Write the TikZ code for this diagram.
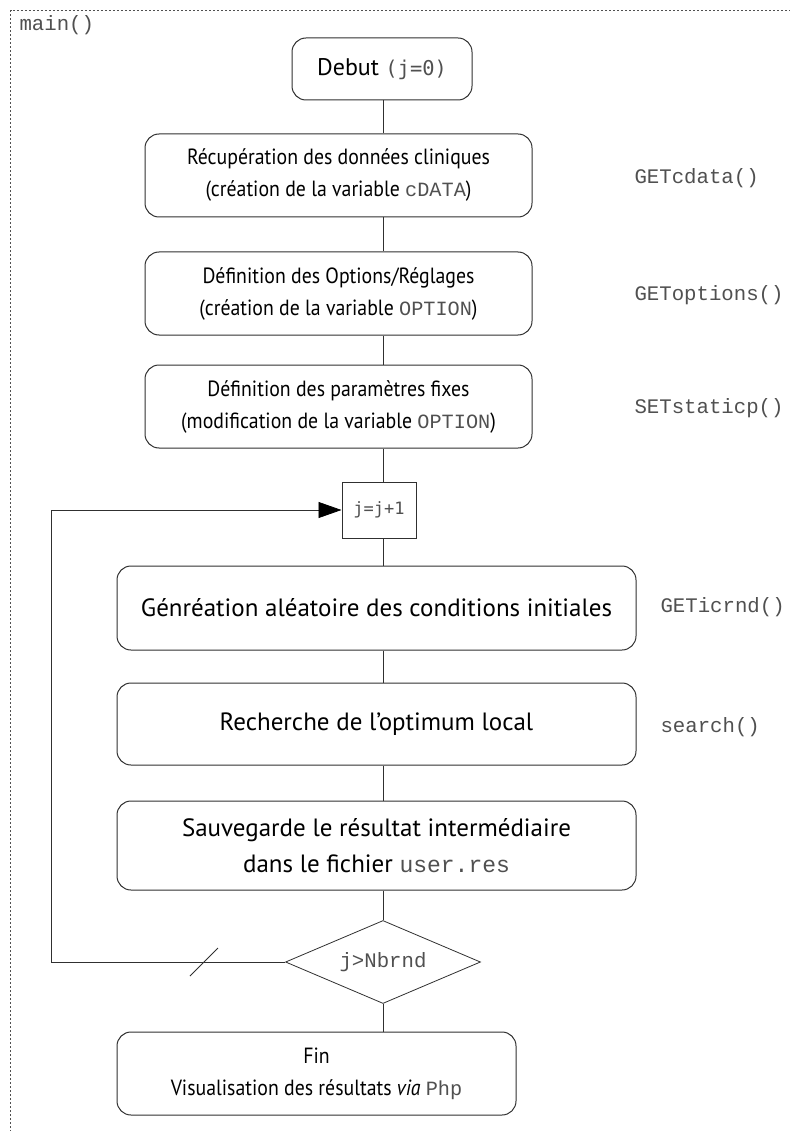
\documentclass[tikz,border=0pt]{standalone}
\usepackage{fontspec}
\setmainfont{PT Sans}
\newfontfamily\narrowsans{PT Sans}[FakeStretch=0.9]
\newfontfamily\courfont{Liberation Mono}[Scale=0.92]
\newfontfamily\dvmfont{DejaVu Sans Mono}[Scale=0.85]
\usetikzlibrary{positioning,shapes.geometric,arrows.meta}
\definecolor{codegray}{HTML}{505050}
\definecolor{edgegray}{HTML}{303030}
\newcommand{\cvar}[1]{{\courfont\color{codegray}#1}}
\newcommand{\dvcode}[1]{{\dvmfont\color{codegray}#1}}

\begin{document}
\begin{tikzpicture}[
    x=1pt, y=-1pt,
    every node/.style={font=\narrowsans\fontsize{22}{32}\selectfont},
    block/.style={
        draw=edgegray,
        line width=1pt,
        rounded corners=14pt,
        align=center,
        inner sep=0pt
    },
    bigblock/.style={
        block,
        font=\rmfamily\fontsize{25}{36}\selectfont
    },
    incbox/.style={
        draw=edgegray,
        line width=1pt,
        inner sep=0pt,
        minimum width=74pt,
        minimum height=56pt
    },
    test/.style={
        diamond,
        draw=edgegray,
        line width=0.8pt,
        aspect=2.35,
        inner sep=0pt,
        minimum width=195pt,
        minimum height=83pt
    },
    fname/.style={
        anchor=west,
        text=codegray,
        font=\courfont\fontsize{22.5}{26}\selectfont
    },
    line/.style={
        draw=edgegray,
        line width=0.8pt
    },
    >={Triangle[length=23pt,width=16pt,color=black]}
    ]
\useasboundingbox (0,0) rectangle (789,1131);

% frame of main()
\draw[codegray, line width=0.7pt, dash pattern=on 2pt off 2pt] (10.5,1160) |- (820,10.5);
\node[fname] (mainlbl) at (16,25) {main()};

% steps
\node[block, minimum width=180pt, minimum height=62pt, font=\rmfamily\fontsize{24}{30}\selectfont] (debut) at (382,69)
    {Debut \dvcode{(j=0)}};
\node[block, minimum width=387pt, minimum height=83pt] (cdata) at (338.5,175.5)
    {R\'ecup\'eration des donn\'ees cliniques\\(cr\'eation de la variable \cvar{cDATA})};
\node[block, minimum width=387pt, minimum height=83pt] (option) at (338.5,293.5)
    {D\'efinition des Options/R\'eglages\\(cr\'eation de la variable \cvar{OPTION})};
\node[block, minimum width=387pt, minimum height=83pt] (static) at (338.5,406.5)
    {D\'efinition des param\`etres fixes\\(modification de la variable \cvar{OPTION})};
\node[incbox, font=\fontsize{20}{24}\selectfont] (incr) at (379,510) {\dvcode{j=j+1}};
\node[bigblock, minimum width=519pt, minimum height=84pt] (icrnd) at (376.5,608)
    {G\'enr\'eation al\'eatoire des conditions initiales};
\node[bigblock, minimum width=519pt, minimum height=82pt] (search) at (376.5,724)
    {Recherche de l'optimum local};
\node[bigblock, minimum width=519pt, minimum height=89pt] (save) at (376.5,845.5)
    {Sauvegarde le r\'esultat interm\'ediaire\\dans le fichier \cvar{user.res}};
\node[test] (test) at (383,962) {\courfont\color{codegray}\fontsize{22.5}{26}\selectfont j>Nbrnd};
\node[block, minimum width=399pt, minimum height=83pt] (fin) at (316.5,1073.5)
    {Fin\\Visualisation des r\'esultats \textit{via} \cvar{Php}};

% function names
\node[fname] (lcdata) at (631,178) {GETcdata()};
\node[fname] (loption) at (631,295) {GEToptions()};
\node[fname] (lstatic) at (631,408) {SETstaticp()};
\node[fname] (licrnd) at (657,607) {GETicrnd()};
\node[fname] (lsearch) at (657,727) {search()};

% main column
\coordinate (trunk) at (383,0);
\foreach \a/\b in {debut/cdata,cdata/option,option/static,static/incr,incr/icrnd,icrnd/search,search/save,save/test,test/fin}
    \draw[line] (\a.south -| trunk) -- (\b.north -| trunk);

% loop back
\coordinate (back) at (51,736);
\draw[line,->] (test.west) -- (test.west -| back) |- (incr.west);
\coordinate (cut) at (204,962);
\draw[line] ([shift={(-14,14)}]cut) -- ([shift={(14,-14)}]cut);
\end{tikzpicture}
\end{document}
